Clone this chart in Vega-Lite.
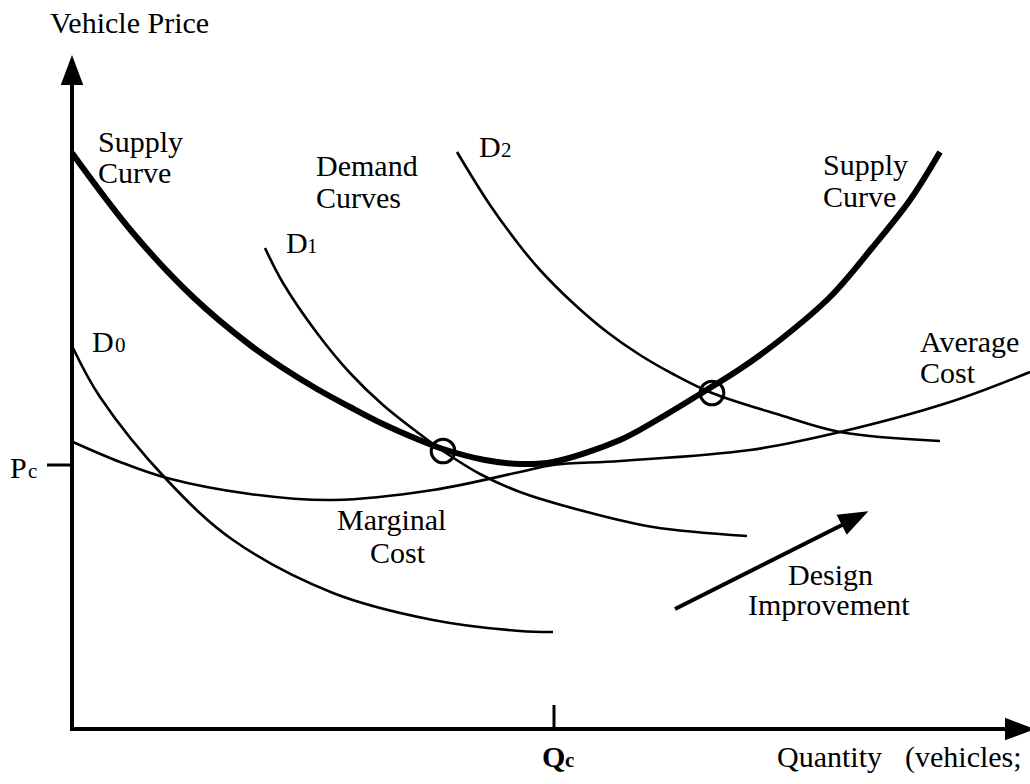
{
  "$schema": "https://vega.github.io/schema/vega-lite/v6.json",
  "width": 1030,
  "height": 784,
  "autosize": {"type": "none"},
  "padding": 0,
  "background": "white",
  "config": {"view": {"stroke": null}, "font": "Liberation Serif"},
  "datasets": {
    "thin": [
      {"c": "D0", "x": 73, "y": 348}, {"c": "D0", "x": 100, "y": 397}, {"c": "D0", "x": 167, "y": 480}, {"c": "D0", "x": 233, "y": 540}, {"c": "D0", "x": 333, "y": 593}, {"c": "D0", "x": 433, "y": 620}, {"c": "D0", "x": 520, "y": 631}, {"c": "D0", "x": 553, "y": 632},
      {"c": "D1", "x": 265, "y": 248}, {"c": "D1", "x": 283, "y": 283}, {"c": "D1", "x": 317, "y": 333}, {"c": "D1", "x": 350, "y": 373}, {"c": "D1", "x": 383, "y": 405}, {"c": "D1", "x": 417, "y": 432}, {"c": "D1", "x": 443, "y": 451}, {"c": "D1", "x": 480, "y": 474}, {"c": "D1", "x": 520, "y": 492}, {"c": "D1", "x": 587, "y": 512}, {"c": "D1", "x": 653, "y": 527}, {"c": "D1", "x": 747, "y": 536},
      {"c": "D2", "x": 457, "y": 152}, {"c": "D2", "x": 490, "y": 205}, {"c": "D2", "x": 520, "y": 246}, {"c": "D2", "x": 540, "y": 270}, {"c": "D2", "x": 573, "y": 303}, {"c": "D2", "x": 607, "y": 332}, {"c": "D2", "x": 640, "y": 355}, {"c": "D2", "x": 673, "y": 374}, {"c": "D2", "x": 712, "y": 393}, {"c": "D2", "x": 780, "y": 415}, {"c": "D2", "x": 840, "y": 432}, {"c": "D2", "x": 940, "y": 441},
      {"c": "AC", "x": 73, "y": 442}, {"c": "AC", "x": 120, "y": 462}, {"c": "AC", "x": 167, "y": 478}, {"c": "AC", "x": 250, "y": 494}, {"c": "AC", "x": 333, "y": 500}, {"c": "AC", "x": 433, "y": 490}, {"c": "AC", "x": 520, "y": 472}, {"c": "AC", "x": 553, "y": 465}, {"c": "AC", "x": 620, "y": 461}, {"c": "AC", "x": 750, "y": 450}, {"c": "AC", "x": 840, "y": 432}, {"c": "AC", "x": 950, "y": 402}, {"c": "AC", "x": 1030, "y": 372}
    ],
    "thick": [
      {"c": "S", "x": 72, "y": 153}, {"c": "S", "x": 133, "y": 233}, {"c": "S", "x": 193, "y": 297}, {"c": "S", "x": 250, "y": 345}, {"c": "S", "x": 283, "y": 368}, {"c": "S", "x": 317, "y": 389}, {"c": "S", "x": 350, "y": 407}, {"c": "S", "x": 383, "y": 424}, {"c": "S", "x": 417, "y": 439}, {"c": "S", "x": 443, "y": 449}, {"c": "S", "x": 485, "y": 460}, {"c": "S", "x": 520, "y": 464}, {"c": "S", "x": 553, "y": 462}, {"c": "S", "x": 620, "y": 440}, {"c": "S", "x": 657, "y": 420}, {"c": "S", "x": 700, "y": 394}, {"c": "S", "x": 740, "y": 369}, {"c": "S", "x": 780, "y": 340}, {"c": "S", "x": 830, "y": 297}, {"c": "S", "x": 872, "y": 248}, {"c": "S", "x": 910, "y": 200}, {"c": "S", "x": 940, "y": 152}
    ],
    "heavyRules": [
      {"x": 72, "y": 75, "x2": 72, "y2": 731},
      {"x": 70, "y": 729, "x2": 1010, "y2": 729},
      {"x": 675, "y": 609, "x2": 848, "y2": 522}
    ],
    "ticks": [
      {"x": 47, "y": 465, "x2": 72, "y2": 465},
      {"x": 554, "y": 705, "x2": 554, "y2": 729}
    ],
    "circles": [{"x": 443, "y": 451}, {"x": 712, "y": 393}],
    "labels": [
      {"x": 50, "y": 33, "t": "Vehicle Price"},
      {"x": 98, "y": 152, "t": "Supply"},
      {"x": 98, "y": 183, "t": "Curve"},
      {"x": 316, "y": 176, "t": "Demand"},
      {"x": 316, "y": 208, "t": "Curves"},
      {"x": 479, "y": 157, "t": "D"},
      {"x": 286, "y": 253, "t": "D"},
      {"x": 92, "y": 352, "t": "D"},
      {"x": 823, "y": 175, "t": "Supply"},
      {"x": 823, "y": 207, "t": "Curve"},
      {"x": 920, "y": 352, "t": "Average"},
      {"x": 920, "y": 383, "t": "Cost"},
      {"x": 337, "y": 530, "t": "Marginal"},
      {"x": 370, "y": 563, "t": "Cost"},
      {"x": 788, "y": 585, "t": "Design"},
      {"x": 748, "y": 615, "t": "Improvement"},
      {"x": 10, "y": 478, "t": "P"},
      {"x": 777, "y": 767, "t": "Quantity"},
      {"x": 905, "y": 767, "t": "(vehicles;"}
    ],
    "subs": [
      {"x": 501, "y": 157, "t": "2"},
      {"x": 307, "y": 253, "t": "1"},
      {"x": 115, "y": 352, "t": "0"},
      {"x": 28, "y": 478, "t": "c"}
    ],
    "boldMain": [{"x": 542, "y": 767, "t": "Q"}],
    "boldSub": [{"x": 565, "y": 767, "t": "c"}]
  },
  "encoding": {
    "x": {"field": "x", "type": "quantitative", "scale": {"domain": [0, 1030], "nice": false, "zero": false}, "axis": null},
    "y": {"field": "y", "type": "quantitative", "scale": {"domain": [0, 784], "reverse": true, "nice": false, "zero": false}, "axis": null}
  },
  "layer": [
    {
      "data": {"name": "thin"},
      "mark": {"type": "line", "interpolate": "catmull-rom", "color": "black", "strokeWidth": 2.6},
      "encoding": {"detail": {"field": "c"}}
    },
    {
      "data": {"name": "thick"},
      "mark": {"type": "line", "interpolate": "catmull-rom", "color": "black", "strokeWidth": 6},
      "encoding": {"detail": {"field": "c"}}
    },
    {
      "data": {"name": "heavyRules"},
      "mark": {"type": "rule", "color": "black", "strokeWidth": 4},
      "encoding": {"x2": {"field": "x2"}, "y2": {"field": "y2"}}
    },
    {
      "data": {"name": "ticks"},
      "mark": {"type": "rule", "color": "black", "strokeWidth": 3},
      "encoding": {"x2": {"field": "x2"}, "y2": {"field": "y2"}}
    },
    {
      "data": {"values": [{"x": 72, "y": 70}]},
      "mark": {"type": "point", "shape": "M0,-1L0.75,1L-0.75,1Z", "size": 900, "filled": true, "color": "black", "opacity": 1, "angle": 0}
    },
    {
      "data": {"values": [{"x": 1020, "y": 729}]},
      "mark": {"type": "point", "shape": "M0,-1L0.75,1L-0.75,1Z", "size": 900, "filled": true, "color": "black", "opacity": 1, "angle": 90}
    },
    {
      "data": {"values": [{"x": 855, "y": 518}]},
      "mark": {"type": "point", "shape": "M0,-1L0.75,1L-0.75,1Z", "size": 900, "filled": true, "color": "black", "opacity": 1, "angle": 63}
    },
    {
      "data": {"name": "circles"},
      "mark": {"type": "point", "shape": "circle", "size": 560, "filled": false, "color": "black", "strokeWidth": 3, "opacity": 1}
    },
    {
      "data": {"name": "labels"},
      "mark": {"type": "text", "align": "left", "baseline": "alphabetic", "fontSize": 30, "font": "Liberation Serif", "color": "black"},
      "encoding": {"text": {"field": "t"}}
    },
    {
      "data": {"name": "subs"},
      "mark": {"type": "text", "align": "left", "baseline": "alphabetic", "fontSize": 21, "font": "Liberation Serif", "color": "black"},
      "encoding": {"text": {"field": "t"}}
    },
    {
      "data": {"name": "boldMain"},
      "mark": {"type": "text", "align": "left", "baseline": "alphabetic", "fontSize": 30, "fontWeight": "bold", "font": "Liberation Serif", "color": "black"},
      "encoding": {"text": {"field": "t"}}
    },
    {
      "data": {"name": "boldSub"},
      "mark": {"type": "text", "align": "left", "baseline": "alphabetic", "fontSize": 21, "fontWeight": "bold", "font": "Liberation Serif", "color": "black"},
      "encoding": {"text": {"field": "t"}}
    }
  ]
}
